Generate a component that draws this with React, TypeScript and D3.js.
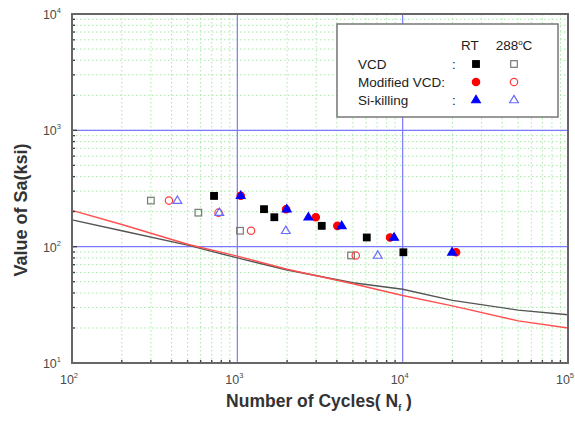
import React from 'react';
import * as d3 from 'd3';

// Axis ranges (log-log)
const cycleDomain: [number, number] = [1e2, 1e5];
const stressDomain: [number, number] = [1e1, 1e4];
const xTickExponents = [2, 3, 4, 5];
const yTickExponents = [1, 2, 3, 4];

// Design fatigue curves
const curveCycles = [100, 200, 500, 1000, 2000, 5000, 10000, 20000, 50000, 100000];
const redCurveSa = [205, 155, 105, 83, 64, 48, 38, 31, 23, 20];
const blackCurveSa = [170, 137, 103, 80, 63, 49, 43, 34.5, 28.5, 26];

// Test data: VCD
const vcdRtCycles = [723, 1450, 1674, 3240, 6066, 10100];
const vcdRtSa = [273, 210, 179, 151, 120, 89.5];
const vcdHotCycles = [300, 581, 1038, 4874];
const vcdHotSa = [249, 196, 137, 84];

// Test data: Modified VCD
const modRtCycles = [1048, 1971, 2981, 4027, 8390, 21040];
const modRtSa = [274, 210, 179, 151, 120, 89.5];
const modHotCycles = [386, 770, 1210, 5204];
const modHotSa = [249, 196, 137, 84];

// Test data: Si-killing
const siRtCycles = [1048, 1990, 2689, 4280, 8872, 19900];
const siRtSa = [274, 210, 179, 151, 120, 89.5];
const siHotCycles = [434, 778, 1964, 7070];
const siHotSa = [249, 196, 137, 84];

const W = 575;
const H = 422;
const plot = { left: 72, right: 568, top: 14, bottom: 363 };

const font = "'Liberation Sans', Arial, sans-serif";

type Shape = 'square' | 'circle' | 'triangle';

function Marker({ shape, cx, cy, fill, stroke }: { shape: Shape; cx: number; cy: number; fill: string; stroke: string }) {
  if (shape === 'square') {
    return <rect x={cx - 3.3} y={cy - 3.3} width={6.6} height={6.6} fill={fill} stroke={stroke} strokeWidth={1.2} />;
  }
  if (shape === 'circle') {
    return <circle cx={cx} cy={cy} r={3.7} fill={fill} stroke={stroke} strokeWidth={1.2} />;
  }
  const r = 4.6;
  const pts = [
    [cx, cy - r],
    [cx + r * 0.95, cy + r * 0.6],
    [cx - r * 0.95, cy + r * 0.6],
  ];
  return <polygon points={pts.map((p) => p.join(',')).join(' ')} fill={fill} stroke={stroke} strokeWidth={1.2} />;
}

export default function App() {
  const x = d3.scaleLog().domain(cycleDomain).range([plot.left, plot.right]);
  const y = d3.scaleLog().domain(stressDomain).range([plot.bottom, plot.top]);

  const minorX: number[] = [];
  for (let e = 2; e < 5; e++) for (let m = 2; m <= 9; m++) minorX.push(m * 10 ** e);
  const minorY: number[] = [];
  for (let e = 1; e < 4; e++) for (let m = 2; m <= 9; m++) minorY.push(m * 10 ** e);

  const line = d3
    .line<[number, number]>()
    .x((d) => x(d[0]))
    .y((d) => y(d[1]));

  const redPath = line(curveCycles.map((n, i) => [n, redCurveSa[i]] as [number, number])) || '';
  const blackPath = line(curveCycles.map((n, i) => [n, blackCurveSa[i]] as [number, number])) || '';

  const series: { n: number[]; s: number[]; shape: Shape; fill: string; stroke: string }[] = [
    { n: vcdHotCycles, s: vcdHotSa, shape: 'square', fill: 'none', stroke: '#777' },
    { n: vcdRtCycles, s: vcdRtSa, shape: 'square', fill: '#000', stroke: '#000' },
    { n: modHotCycles, s: modHotSa, shape: 'circle', fill: 'none', stroke: '#ff3b3b' },
    { n: modRtCycles, s: modRtSa, shape: 'circle', fill: '#ff0000', stroke: '#ff0000' },
    { n: siHotCycles, s: siHotSa, shape: 'triangle', fill: 'none', stroke: '#6a6aff' },
    { n: siRtCycles, s: siRtSa, shape: 'triangle', fill: '#0000ff', stroke: '#0000ff' },
  ];

  const legendRows: { label: string; colon: boolean; shape: Shape; rt: [string, string]; hot: [string, string] }[] = [
    { label: 'VCD', colon: true, shape: 'square', rt: ['#000', '#000'], hot: ['none', '#777'] },
    { label: 'Modified VCD:', colon: false, shape: 'circle', rt: ['#ff0000', '#ff0000'], hot: ['none', '#ff3b3b'] },
    { label: 'Si-killing', colon: true, shape: 'triangle', rt: ['#0000ff', '#0000ff'], hot: ['none', '#6a6aff'] },
  ];
  const legendY = [64, 82, 100];

  return (
    <svg width={W} height={H} style={{ position: 'absolute', left: 0, top: 0, background: '#fff' }} fontFamily={font}>
      <rect x={0} y={0} width={W} height={H} fill="#fff" />

      {/* minor grid */}
      <g stroke="#a8e8a8" strokeWidth={1} strokeDasharray="1.5,2.5">
        {minorX.map((v) => (
          <line key={'gx' + v} x1={x(v)} x2={x(v)} y1={plot.top} y2={plot.bottom} />
        ))}
        {minorY.map((v) => (
          <line key={'gy' + v} x1={plot.left} x2={plot.right} y1={y(v)} y2={y(v)} />
        ))}
      </g>

      {/* major grid */}
      <g stroke="#7a7aff" strokeWidth={1.2}>
        {[1e3, 1e4].map((v) => (
          <line key={'mx' + v} x1={x(v)} x2={x(v)} y1={plot.top} y2={plot.bottom} />
        ))}
        {[1e2, 1e3].map((v) => (
          <line key={'my' + v} x1={plot.left} x2={plot.right} y1={y(v)} y2={y(v)} />
        ))}
      </g>

      {/* design curves */}
      <path d={blackPath} fill="none" stroke="#555" strokeWidth={1.4} />
      <path d={redPath} fill="none" stroke="#ff5050" strokeWidth={1.4} />

      {/* data */}
      {series.map((sr, si) => (
        <g key={'s' + si}>
          {sr.n.map((n, i) => (
            <Marker key={i} shape={sr.shape} cx={x(n)} cy={y(sr.s[i])} fill={sr.fill} stroke={sr.stroke} />
          ))}
        </g>
      ))}

      {/* ticks */}
      <g stroke="#444" strokeWidth={1.4}>
        {minorX.map((v) => (
          <line key={'tx' + v} x1={x(v)} x2={x(v)} y1={plot.bottom} y2={plot.bottom - 3} />
        ))}
        {minorY.map((v) => (
          <line key={'ty' + v} x1={plot.left} x2={plot.left + 3} y1={y(v)} y2={y(v)} />
        ))}
        {yTickExponents.map((e) => (
          <line key={'tyM' + e} x1={plot.left} x2={plot.left + 5} y1={y(10 ** e)} y2={y(10 ** e)} />
        ))}
      </g>

      {/* frame */}
      <rect
        x={plot.left}
        y={plot.top}
        width={plot.right - plot.left}
        height={plot.bottom - plot.top}
        fill="none"
        stroke="#666"
        strokeWidth={2}
      />

      {/* tick labels */}
      <g fill="#4a4a4a" fontSize={12.5}>
        {xTickExponents.map((e) => (
          <text key={'lx' + e} x={x(10 ** e) - 3} y={384} textAnchor="middle">
            10
            <tspan fontSize={7.5} dy={-6}>
              {e}
            </tspan>
          </text>
        ))}
        {yTickExponents.map((e) => (
          <text key={'ly' + e} x={61} y={y(10 ** e) + 5} textAnchor="end">
            10
            <tspan fontSize={7.5} dy={-6}>
              {e}
            </tspan>
          </text>
        ))}
      </g>

      {/* axis titles */}
      <text x={319} y={407} textAnchor="middle" fontSize={17.5} fontWeight="bold" fill="#333">
        Number of Cycles( N
        <tspan fontSize={9} dy={4}>
          f
        </tspan>
        <tspan dy={-4}> )</tspan>
      </text>
      <text
        transform={`translate(27, 210) rotate(-90)`}
        textAnchor="middle"
        fontSize={18}
        fontWeight="bold"
        fill="#333"
      >
        Value of Sa(ksi)
      </text>

      {/* legend */}
      <rect x={337} y={24} width={221} height={93} fill="#fff" stroke="#777" strokeWidth={1.5} />
      <g fontSize={13.5} fill="#222">
        <text x={470} y={50} textAnchor="middle">
          RT
        </text>
        <text x={514} y={50} textAnchor="middle">
          288
          <tspan fontSize={8} dy={-5}>
            o
          </tspan>
          <tspan dy={5}>C</tspan>
        </text>
        {legendRows.map((r, i) => (
          <g key={'lg' + i}>
            <text x={358} y={legendY[i] + 5}>
              {r.label}
            </text>
            {r.colon && (
              <text x={452} y={legendY[i] + 5}>
                :
              </text>
            )}
            <Marker shape={r.shape} cx={476} cy={legendY[i]} fill={r.rt[0]} stroke={r.rt[1]} />
            <Marker shape={r.shape} cx={514} cy={legendY[i]} fill={r.hot[0]} stroke={r.hot[1]} />
          </g>
        ))}
      </g>
    </svg>
  );
}
